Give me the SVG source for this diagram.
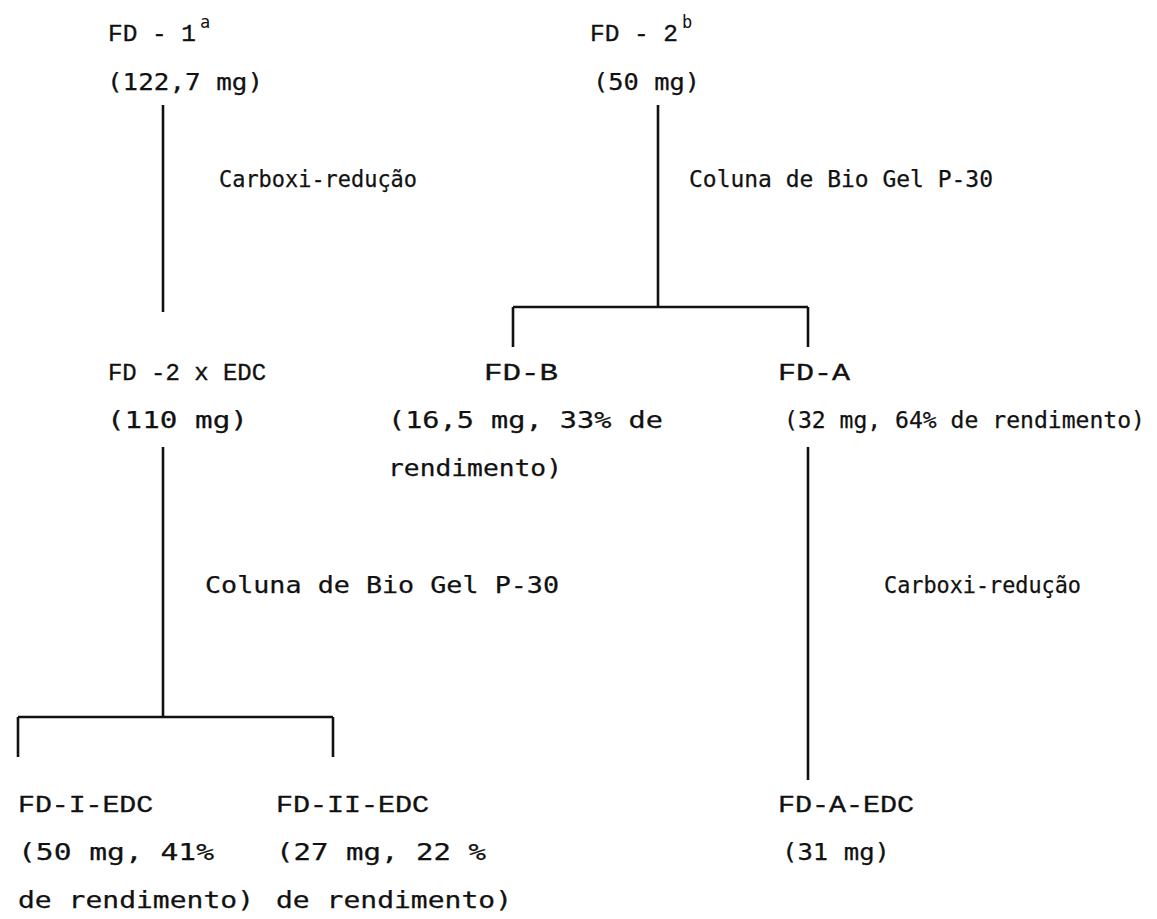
<svg xmlns="http://www.w3.org/2000/svg" width="1157" height="919" viewBox="0 0 1157 919">
<style>
.t{font-family:"DejaVu Sans Mono","Liberation Mono",monospace;font-size:23px;fill:#111;stroke:#111;stroke-width:0.25}
.f{font-family:"Liberation Mono","DejaVu Sans Mono",monospace;font-size:24px;fill:#111;stroke:#111;stroke-width:0.35}
.sup{font-family:"DejaVu Sans Mono",monospace;font-size:17px;fill:#111}
.c line{stroke:#111;stroke-width:2.6;fill:none}
</style>
<rect width="1157" height="919" fill="#fff"/>
<g class="c" id="connectors">
<line x1="163" y1="105" x2="163" y2="312"/>
<line x1="658" y1="105" x2="658" y2="307"/>
<line x1="513" y1="307" x2="808" y2="307"/>
<line x1="513" y1="307" x2="513" y2="347"/>
<line x1="808" y1="307" x2="808" y2="347"/>
<line x1="163" y1="447" x2="163" y2="717"/>
<line x1="18" y1="717" x2="333" y2="717"/>
<line x1="18" y1="717" x2="18" y2="757"/>
<line x1="333" y1="717" x2="333" y2="757"/>
<line x1="808" y1="447" x2="808" y2="780"/>
</g>
<g id="fd1">
<text class="f" x="108" y="41" textLength="88" lengthAdjust="spacingAndGlyphs">FD - 1</text>
<text class="sup" x="200" y="28">a</text>
<text class="t" x="107" y="90" textLength="156" lengthAdjust="spacingAndGlyphs">(122,7 mg)</text>
</g>
<g id="fd2">
<text class="f" x="590" y="41" textLength="88" lengthAdjust="spacingAndGlyphs">FD - 2</text>
<text class="sup" x="682" y="28">b</text>
<text class="t" x="593" y="90" textLength="107" lengthAdjust="spacingAndGlyphs">(50 mg)</text>
</g>
<g id="label-carboxi-1"><text class="t" x="219" y="187" textLength="198" lengthAdjust="spacingAndGlyphs">Carboxi-redução</text></g>
<g id="label-coluna-1"><text class="t" x="689" y="187" textLength="304" lengthAdjust="spacingAndGlyphs">Coluna de Bio Gel P-30</text></g>
<g id="fd2xedc">
<text class="f" x="108" y="380" textLength="158" lengthAdjust="spacingAndGlyphs">FD -2 x EDC</text>
<text class="t" x="107" y="428" textLength="141" lengthAdjust="spacingAndGlyphs">(110 mg)</text>
</g>
<g id="fdb">
<text class="f" x="484" y="380" textLength="74" lengthAdjust="spacingAndGlyphs">FD-B</text>
<text class="t" x="388" y="428" textLength="275" lengthAdjust="spacingAndGlyphs">(16,5 mg, 33% de</text>
<text class="t" x="388" y="476" textLength="174" lengthAdjust="spacingAndGlyphs">rendimento)</text>
</g>
<g id="fda">
<text class="f" x="778" y="380" textLength="72" lengthAdjust="spacingAndGlyphs">FD-A</text>
<text class="t" x="784" y="428" textLength="361" lengthAdjust="spacingAndGlyphs">(32 mg, 64% de rendimento)</text>
</g>
<g id="label-coluna-2"><text class="t" x="205" y="593" textLength="354" lengthAdjust="spacingAndGlyphs">Coluna de Bio Gel P-30</text></g>
<g id="label-carboxi-2"><text class="t" x="884" y="593" textLength="197" lengthAdjust="spacingAndGlyphs">Carboxi-redução</text></g>
<g id="fdiedc">
<text class="f" x="18" y="812" textLength="135" lengthAdjust="spacingAndGlyphs">FD-I-EDC</text>
<text class="t" x="18" y="860" textLength="196" lengthAdjust="spacingAndGlyphs">(50 mg, 41%</text>
<text class="t" x="18" y="908" textLength="236" lengthAdjust="spacingAndGlyphs">de rendimento)</text>
</g>
<g id="fdiiedc">
<text class="f" x="276" y="812" textLength="153" lengthAdjust="spacingAndGlyphs">FD-II-EDC</text>
<text class="t" x="276" y="860" textLength="210" lengthAdjust="spacingAndGlyphs">(27 mg, 22 %</text>
<text class="t" x="276" y="908" textLength="236" lengthAdjust="spacingAndGlyphs">de rendimento)</text>
</g>
<g id="fdaedc">
<text class="f" x="778" y="812" textLength="136" lengthAdjust="spacingAndGlyphs">FD-A-EDC</text>
<text class="t" x="782" y="860" textLength="108" lengthAdjust="spacingAndGlyphs">(31 mg)</text>
</g>
</svg>
